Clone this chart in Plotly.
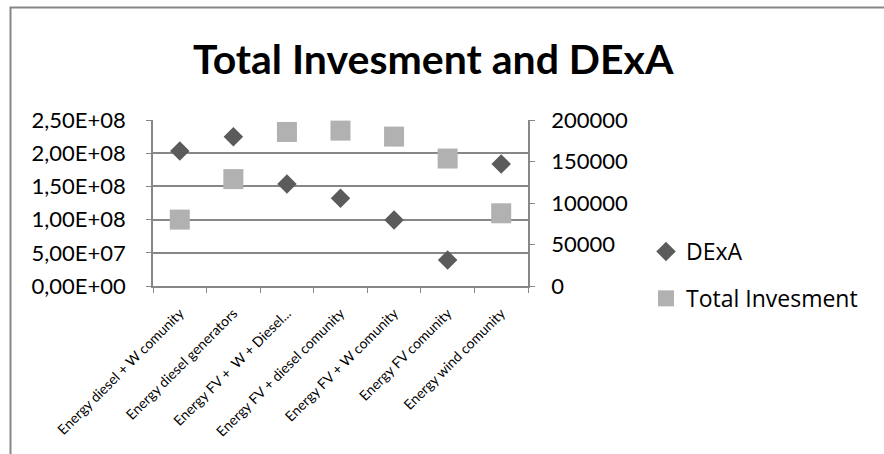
import plotly.graph_objects as go

categories = [
    "Energy diesel + W comunity",
    "Energy diesel generators",
    "Energy FV +  W + Diesel...",
    "Energy FV + diesel comunity",
    "Energy FV + W comunity",
    "Energy FV comunity",
    "Energy wind comunity",
]
dexa = [162700, 179900, 122900, 105700, 79500, 31300, 147000]
total_invesment = [1.00e8, 1.61e8, 2.32e8, 2.34e8, 2.25e8, 1.92e8, 1.095e8]

left_ticks = [0, 5e7, 1e8, 1.5e8, 2e8, 2.5e8]
left_labels = ["0,00E+00", "5,00E+07", "1,00E+08", "1,50E+08", "2,00E+08", "2,50E+08"]
right_ticks = [0, 50000, 100000, 150000, 200000]

W, H = 884, 454
L, R, T, B = 153, 528, 120, 286
FONT = "Lato"
LEG_FONT = "Open Sans"
GRAY = "#878787"

fig = go.Figure()
fig.add_trace(go.Scatter(
    x=categories, y=dexa, name="DExA", mode="markers", yaxis="y2",
    legendgroup="a",
    marker=dict(symbol="diamond", size=15, color="#5b5b5b"),
))
fig.add_trace(go.Scatter(
    x=categories, y=total_invesment, name="Total Invesment", mode="markers",
    legendgroup="b",
    marker=dict(symbol="square", size=20, color="#b1b1b1"),
))

def px_x(p):
    return (p - L) / (R - L)

def px_y(p):
    return (B - p) / (B - T)

# outer chart frame
fig.add_shape(type="rect", xref="paper", yref="paper",
              x0=px_x(10.5), x1=px_x(W + 20), y0=px_y(H + 20), y1=px_y(7.5),
              line=dict(color=GRAY, width=2), layer="below")

fig.add_annotation(text="<b>Total Invesment and DExA</b>", xref="paper", yref="paper",
                   x=px_x(433), y=px_y(58), xanchor="center", yanchor="middle",
                   showarrow=False,
                   font=dict(family=FONT, size=41, color="black"))

fig.update_layout(
    width=W, height=H,
    margin=dict(l=L, r=W - R, t=T, b=H - B, pad=0),
    paper_bgcolor="white", plot_bgcolor="white",
    font=dict(family=FONT, color="black"),
    showlegend=True,
    legend=dict(x=px_x(646), y=px_y(230), xanchor="left", yanchor="top",
                font=dict(family=LEG_FONT, size=23), traceorder="grouped",
                tracegroupgap=14, itemwidth=30, bgcolor="rgba(0,0,0,0)"),
    xaxis=dict(
        type="category", tickson="boundaries", ticks="outside", ticklen=5,
        tickcolor=GRAY, showline=True, linecolor=GRAY, linewidth=1.5,
        showgrid=False, tickangle=-45, tickfont=dict(size=14, family=FONT),
        ticklabelstandoff=12, range=[-0.5, 6.5],
    ),
    yaxis=dict(
        range=[0, 2.5e8], tickvals=left_ticks, ticktext=left_labels,
        ticks="outside", ticklen=5, tickcolor=GRAY, showline=True, linecolor=GRAY,
        linewidth=1.5, showgrid=True, gridcolor=GRAY, gridwidth=1.5,
        zeroline=False, tickfont=dict(size=22, family=FONT), ticklabelstandoff=16,
    ),
    yaxis2=dict(
        range=[0, 200000], tickvals=right_ticks, tickformat="d",
        overlaying="y", side="right",
        ticks="outside", ticklen=5, tickcolor=GRAY, showline=True, linecolor=GRAY,
        linewidth=1.5, showgrid=False, zeroline=False,
        tickfont=dict(size=22, family=FONT), ticklabelstandoff=12,
    ),
)

fig.write_html("out.html")
